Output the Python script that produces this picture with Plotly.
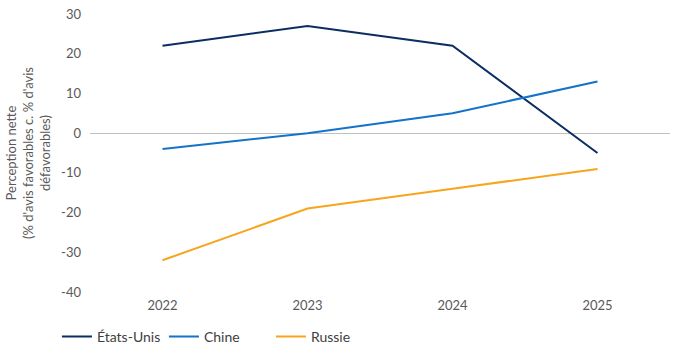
import plotly.graph_objects as go

years = ["2022", "2023", "2024", "2025"]
etats_unis = [22, 27, 22, -5]
chine = [-4, 0, 5, 13]
russie = [-32, -19, -14, -9]
y_ticks = [-40, -30, -20, -10, 0, 10, 20, 30]
y_tick_labels = ["-40", "-30", "-20", "-10", "0", "10", "20", "30"]

series = [
    ("États-Unis", etats_unis, "#0b2d63"),
    ("Chine", chine, "#1473c9"),
    ("Russie", russie, "#f7a51c"),
]

font_family = "Lato, 'Noto Sans', sans-serif"

fig = go.Figure()
for name, vals, color in series:
    fig.add_trace(go.Scatter(
        x=years, y=vals, name=name, mode="lines",
        line=dict(color=color, width=2),
    ))

fig.update_layout(
    width=686, height=348,
    margin=dict(l=90, r=16, t=14, b=56, autoexpand=False),
    paper_bgcolor="white", plot_bgcolor="white",
    font=dict(family=font_family, size=13, color="#595959"),
    showlegend=True,
    legend=dict(
        orientation="h", xref="container", yref="container",
        x=0.083, xanchor="left", y=0.032, yanchor="middle",
        font=dict(size=14, color="#404040"), entrywidth=62, entrywidthmode="pixels",
        itemwidth=30, traceorder="normal",
    ),
    xaxis=dict(
        type="category", range=[-0.5, 3.5], showgrid=False, zeroline=False, showline=False,
        ticks="", tickfont=dict(size=13, color="#595959"), ticklabelstandoff=4,
    ),
    yaxis=dict(
        range=[-40, 30], tickvals=y_ticks, ticktext=y_tick_labels,
        showgrid=False, zeroline=True, zerolinecolor="#c0c0c0", zerolinewidth=1,
        showline=False, ticks="", ticklabelstandoff=8,
        tickfont=dict(size=13, color="#595959"),
    ),
    annotations=[dict(
        text="Perception nette<br>(% d'avis favorables c. % d'avis<br>défavorables)",
        xref="paper", yref="paper", x=0, y=0.5, xshift=-62,
        xanchor="center", yanchor="middle", textangle=-90, showarrow=False,
        font=dict(size=13, color="#595959"),
    )],
)

fig.write_html("out.html")
